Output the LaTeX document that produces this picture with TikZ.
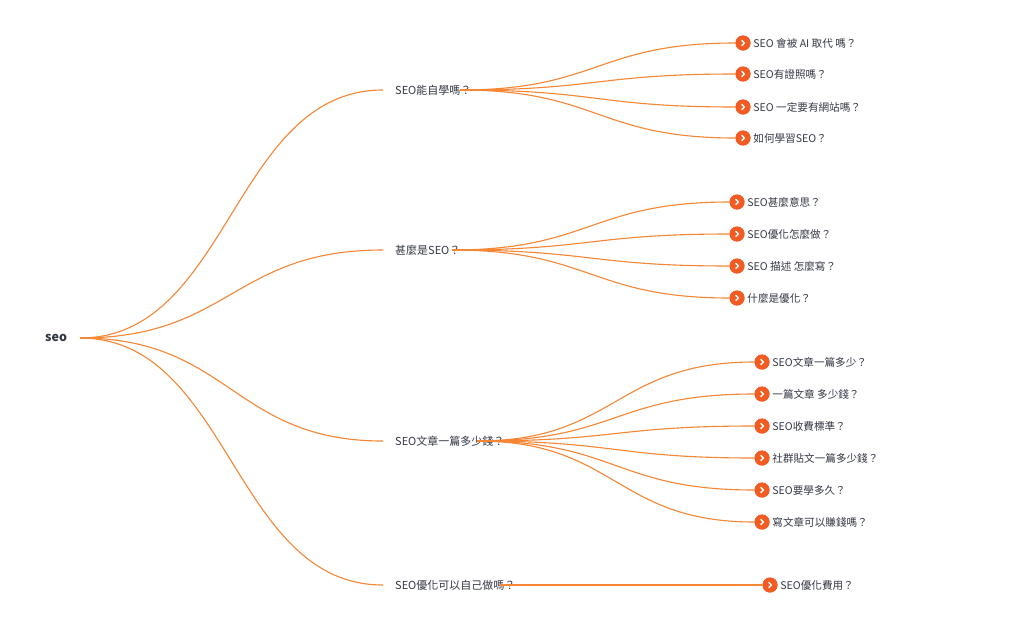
\documentclass[tikz,border=0pt]{standalone}
\usepackage{fontspec}
\setmainfont{Noto Sans CJK TC}
\definecolor{linecol}{HTML}{F58633}
\definecolor{dotcol}{HTML}{F25B22}
\definecolor{txtcol}{HTML}{343844}
\begin{document}
\begin{tikzpicture}[x=1pt,y=-1pt,
  conn/.style={draw=linecol,line width=1.1pt},
  lvone/.style={anchor=west,inner xsep=12pt,inner ysep=0pt,text=txtcol,font=\fontsize{11}{13}\selectfont},
  dot/.style={circle,fill=dotcol,minimum size=15pt,inner sep=0pt},
  chev/.style={white,line width=1.4pt,line cap=round,line join=round},
  leaf/.style={anchor=west,inner sep=0pt,text=txtcol,font=\fontsize{10.6}{12}\selectfont},
  rootnode/.style={anchor=west,inner sep=0pt,text=txtcol,font=\fontsize{12.5}{14}\selectfont\bfseries}]
\useasboundingbox (0,0) rectangle (1024,619);
\fill[white] (0,0) rectangle (1024,619);
% root
\node[rootnode] (root) at (45,338) {seo};
\coordinate (r0) at (80,338);
% level one
\node[lvone] (a) at (383,90) {SEO能自學嗎？};
\node[lvone] (b) at (383,250) {甚麼是SEO？};
\node[lvone] (c) at (383,441) {SEO文章一篇多少錢？};
\node[lvone] (d) at (383,585) {SEO優化可以自己做嗎？};
\coordinate (sa) at (460,90);
\coordinate (sb) at (452,250);
\coordinate (sc) at (477,441);
\coordinate (sd) at (500,585);
% root connectors
\foreach \n in {a,b,c,d}
  \draw[conn] (r0) .. controls ([xshift=150]r0) and ([xshift=-150]\n.west) .. (\n.west);
% leaves
\foreach \name/\x/\y/\t in {
  a1/743/43/{SEO 會被 AI 取代 嗎？},
  a2/743/74/{SEO有證照嗎？},
  a3/743/107/{SEO 一定要有網站嗎？},
  a4/743/138/{如何學習SEO？},
  b1/737/202/{SEO甚麼意思？},
  b2/737/234/{SEO優化怎麼做？},
  b3/737/266/{SEO 描述 怎麼寫？},
  b4/737/298/{什麼是優化？},
  c1/762/362/{SEO文章一篇多少？},
  c2/762/394/{一篇文章 多少錢？},
  c3/762/426/{SEO收費標準？},
  c4/762/458/{社群貼文一篇多少錢？},
  c5/762/490/{SEO要學多久？},
  c6/762/522/{寫文章可以賺錢嗎？},
  d1/770/585/{SEO優化費用？}}
{
  \node[dot] (\name) at (\x,\y) {};
  \node[leaf] (\name t) at ([xshift=2.5pt]\name.east) {\t};
}
% level two connectors
\foreach \n in {a1,a2,a3,a4}
  \draw[conn] (sa) .. controls ([xshift=138]sa) and ([xshift=-138]\n.west) .. (\n.west);
\foreach \n in {b1,b2,b3,b4}
  \draw[conn] (sb) .. controls ([xshift=138]sb) and ([xshift=-138]\n.west) .. (\n.west);
\foreach \n in {c1,c2,c3,c4,c5,c6}
  \draw[conn] (sc) .. controls ([xshift=139]sc) and ([xshift=-139]\n.west) .. (\n.west);
\draw[conn] (sd) -- (d1.west);
% dots redrawn above lines with chevrons
\foreach \n in {a1,a2,a3,a4,b1,b2,b3,b4,c1,c2,c3,c4,c5,c6,d1}
{
  \fill[dotcol] (\n) circle (7.5pt);
  \draw[chev] ([xshift=-1.2pt,yshift=-2.6pt]\n.center) -- ([xshift=1.4pt]\n.center) -- ([xshift=-1.2pt,yshift=2.6pt]\n.center);
}
\end{tikzpicture}
\end{document}
